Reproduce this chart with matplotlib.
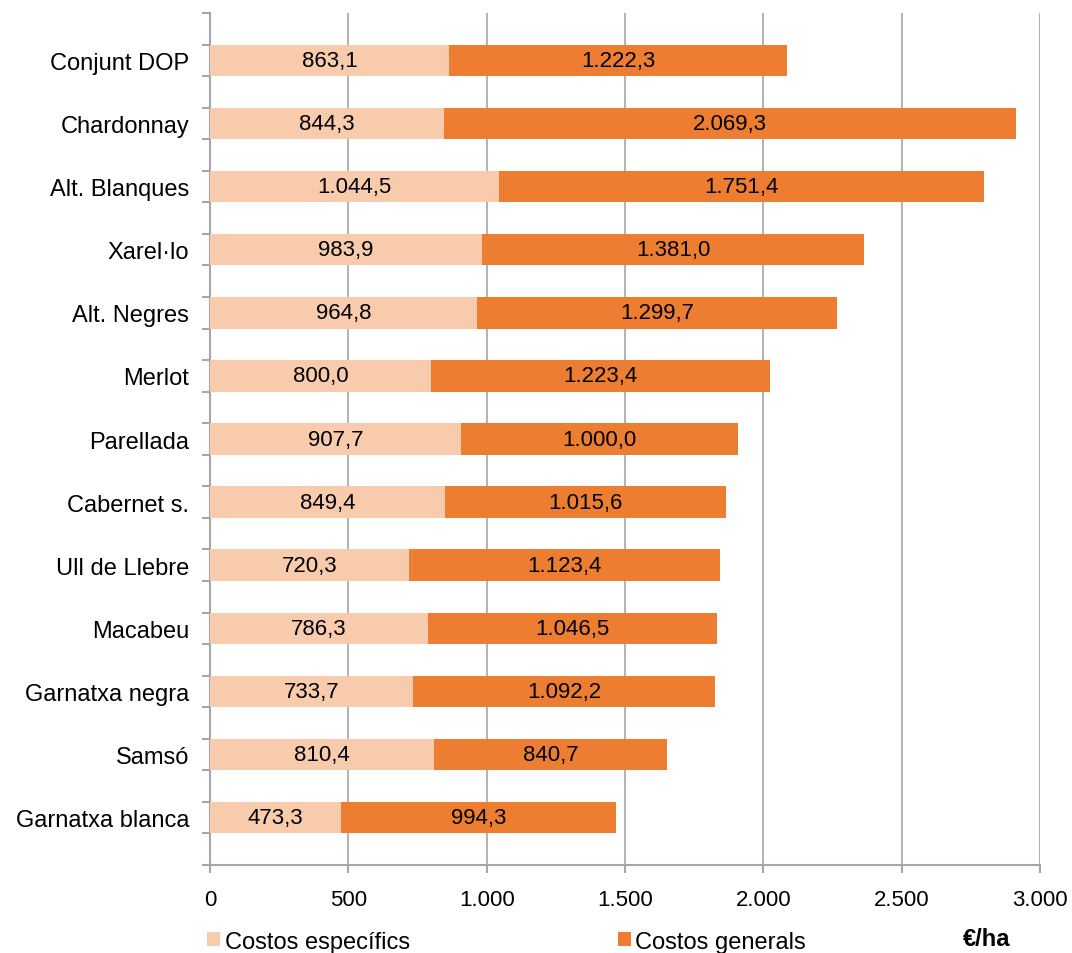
import matplotlib.pyplot as plt
import numpy as np
from matplotlib.ticker import FuncFormatter, MultipleLocator

plt.rcParams['font.family'] = ['Liberation Sans', 'DejaVu Sans']

# data (euro per hectare)
varietats = ['Conjunt DOP', 'Chardonnay', 'Alt. Blanques', 'Xarel·lo', 'Alt. Negres',
             'Merlot', 'Parellada', 'Cabernet s.', 'Ull de Llebre', 'Macabeu',
             'Garnatxa negra', 'Samsó', 'Garnatxa blanca']
especifics = [863.1, 844.3, 1044.5, 983.9, 964.8, 800.0, 907.7, 849.4, 720.3, 786.3,
              733.7, 810.4, 473.3]
generals = [1222.3, 2069.3, 1751.4, 1381.0, 1299.7, 1223.4, 1000.0, 1015.6, 1123.4,
            1046.5, 1092.2, 840.7, 994.3]
series_noms = ['Costos específics', 'Costos generals']


def fmt_es(v, dec=1):
    s = f'{v:,.{dec}f}'
    return s.replace(',', 'X').replace('.', ',').replace('X', '.')


col_esp = '#F8CBAD'
col_gen = '#ED7D31'
gris = '#A6A6A6'
fs = 16

fig = plt.figure(figsize=(10.72, 9.54), dpi=100)
ax = fig.add_axes([0.1959, 0.0922, 0.7743, 0.8931])

y = np.arange(len(varietats))
b1 = ax.barh(y, especifics, height=0.5, color=col_esp, label=series_noms[0], zorder=3)
b2 = ax.barh(y, generals, left=especifics, height=0.5, color=col_gen, label=series_noms[1], zorder=3)

for i in range(len(varietats)):
    ax.text(especifics[i] / 2, y[i], fmt_es(especifics[i]), ha='center', va='center',
            fontsize=fs, color='black', zorder=4)
    ax.text(especifics[i] + generals[i] / 2, y[i], fmt_es(generals[i]), ha='center',
            va='center', fontsize=fs, color='black', zorder=4)

ax.set_xlim(0, 3000)
ax.set_ylim(len(varietats) - 0.25, -0.75)
ax.xaxis.set_major_locator(MultipleLocator(500))
ax.xaxis.set_major_formatter(FuncFormatter(lambda v, p: fmt_es(v, 0)))
ax.set_yticks(y)
ax.set_yticklabels(varietats)
ax.set_yticks(np.arange(-0.75, len(varietats), 0.5), minor=True)

ax.grid(axis='x', color=gris, linewidth=1.2, zorder=0)
for s in ['top', 'right']:
    ax.spines[s].set_visible(False)
for s in ['left', 'bottom']:
    ax.spines[s].set_color(gris)
    ax.spines[s].set_linewidth(1.5)

ax.tick_params(axis='y', which='major', length=0, pad=15, labelsize=17)
ax.tick_params(axis='y', which='minor', length=6, width=1.5, color=gris)
ax.tick_params(axis='x', length=6, width=1.5, color=gris, labelsize=fs, pad=11)

fig.legend(handles=[b1, b2], labels=series_noms, loc='center left',
           bbox_to_anchor=(0.182, 0.012), ncol=2, frameon=False, fontsize=17,
           borderpad=0, handlelength=0.55, handleheight=0.55, handletextpad=0.2,
           columnspacing=8.8)
fig.text(0.898, 0.008, '€/ha', fontsize=17, fontweight='bold', ha='left', va='baseline')

fig.savefig('out.png', dpi=100)
